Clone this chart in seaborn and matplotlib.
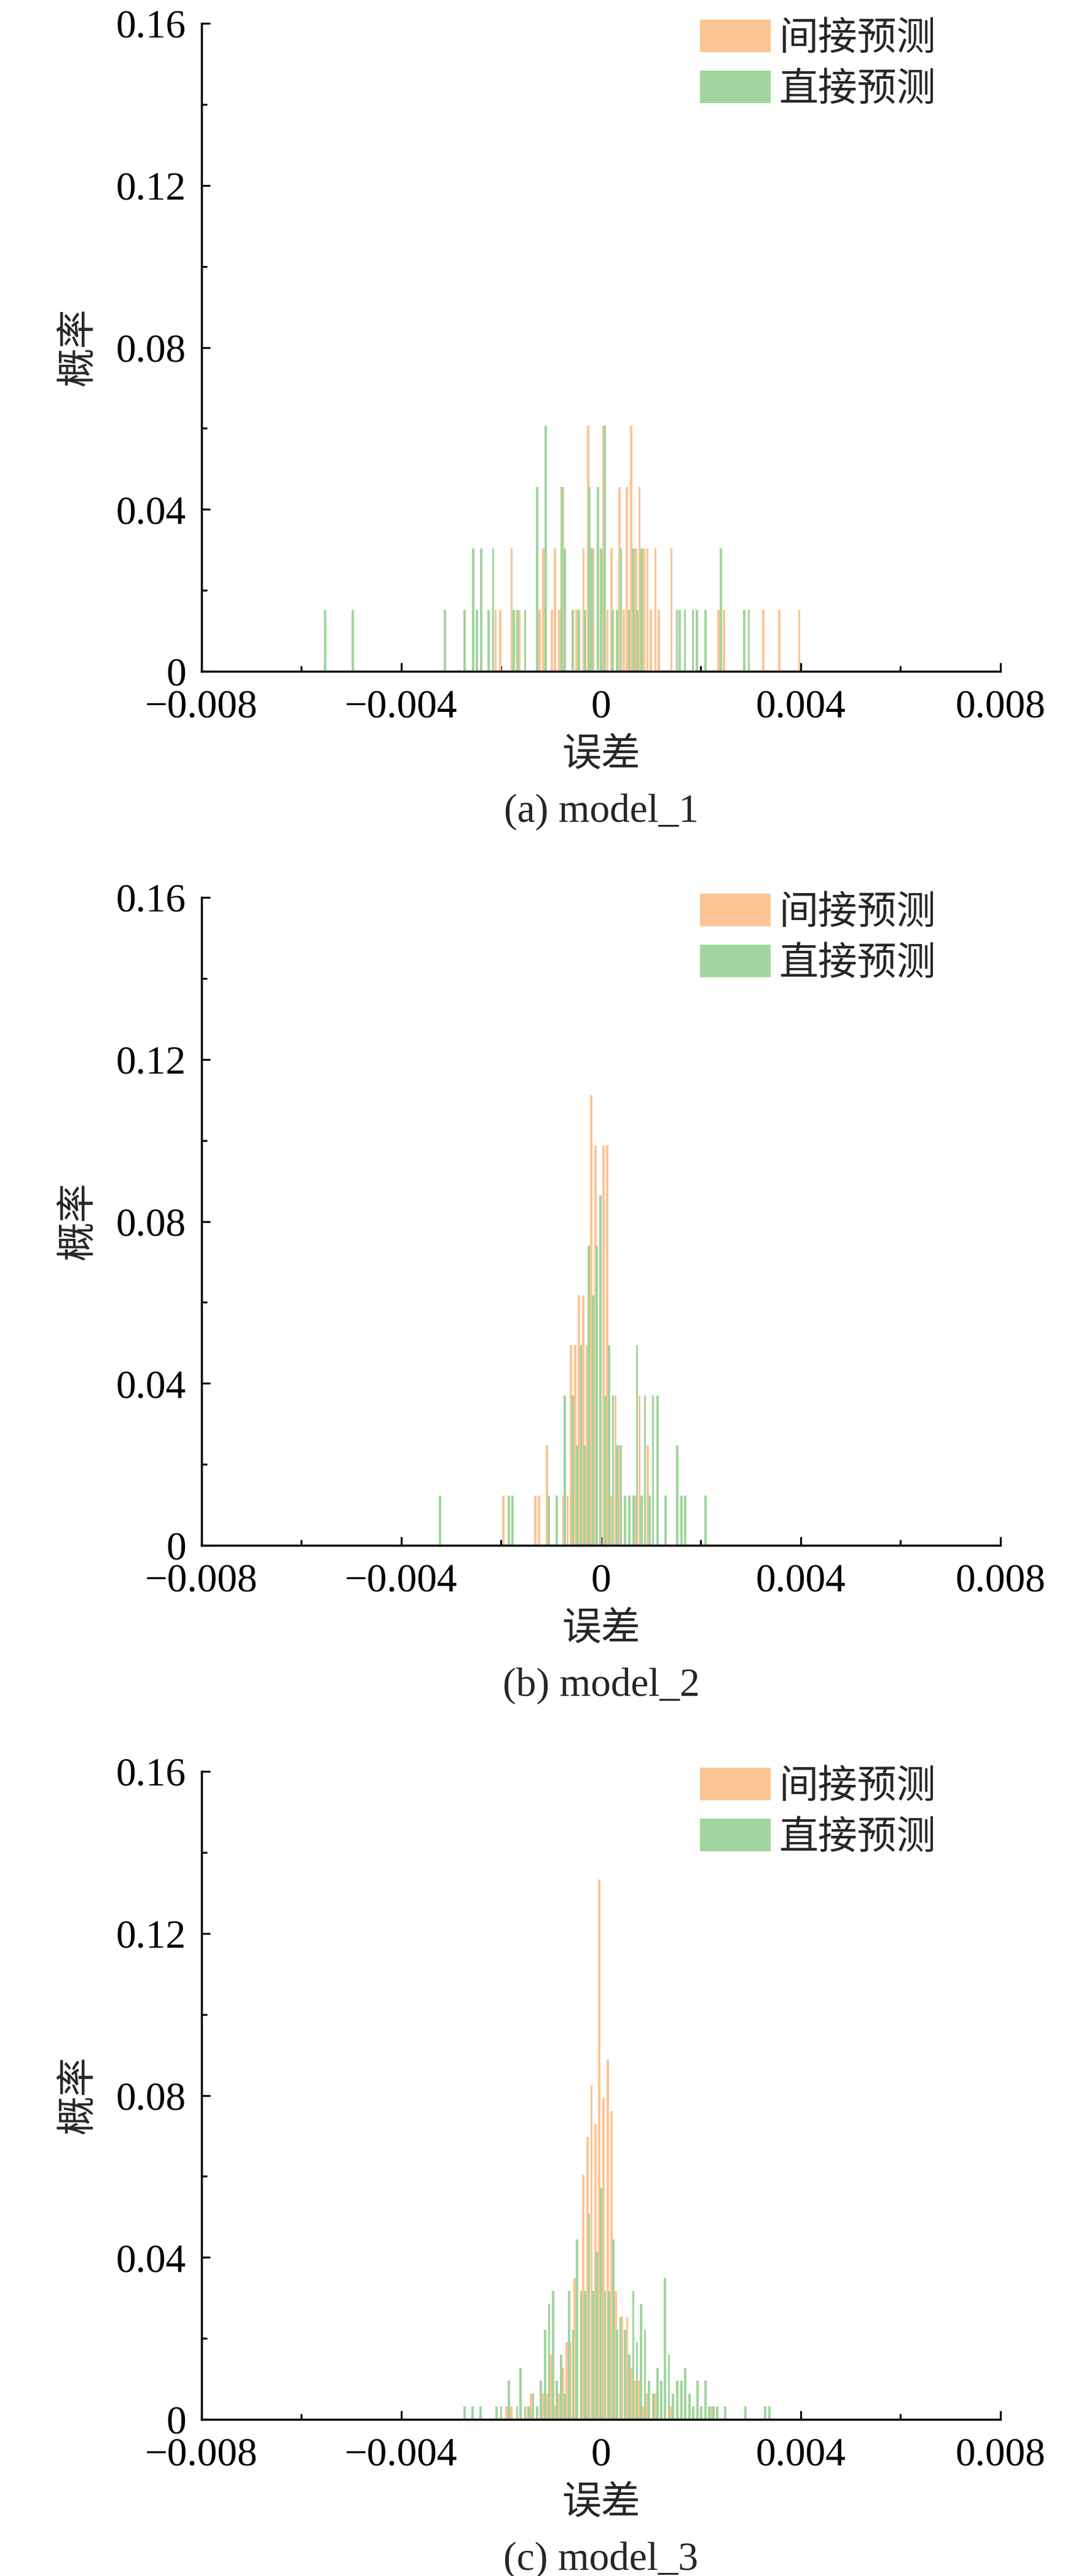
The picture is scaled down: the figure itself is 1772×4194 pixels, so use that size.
import numpy as np
import pandas as pd
import matplotlib
matplotlib.use("Agg")
import matplotlib.pyplot as plt
import seaborn as sns
from matplotlib.patches import Patch

# error values are written in units of 1e-3, counts are number of samples per bar
SCALE = 1e-3

# (a) model_1, 66 samples
p1_total = 66
p1_ind_x = [-2.11, -2.02, -1.79, -1.64, -1.23, -1.16, -0.98, -0.92, -0.84, -0.76,
            -0.49, -0.35, -0.26, -0.16, 0.05, 0.13, 0.21, 0.37, 0.46, 0.52,
            0.605, 0.70, 0.77, 0.86, 0.93, 1.00, 1.09, 1.16, 1.41, 2.35,
            2.46, 3.25, 3.57, 3.97]
p1_ind_n = [1, 1, 2, 1, 1, 2, 1, 2, 1, 3,
            1, 2, 4, 2, 4, 1, 2, 3, 1, 3,
            4, 2, 3, 2, 2, 1, 2, 1, 2, 1,
            1, 1, 1, 1]
p1_dir_x = [-5.53, -4.97, -3.13, -2.73, -2.56, -2.49, -2.40, -2.25, -2.16, -1.75,
            -1.67, -1.52, -1.28, -1.11, -0.79, -0.73, -0.57, -0.44, -0.32, -0.23,
            -0.18, -0.06, 0.0, 0.07, 0.23, 0.32, 0.40, 0.56, 0.65, 0.73,
            0.81, 1.52, 1.58, 1.68, 1.84, 1.92, 2.09, 2.40, 2.87, 2.96]
p1_dir_n = [1, 1, 1, 1, 2, 1, 2, 1, 2, 1,
            1, 1, 3, 4, 3, 2, 1, 1, 1, 3,
            2, 3, 2, 4, 1, 1, 2, 1, 2, 1,
            2, 1, 1, 1, 1, 1, 1, 2, 1, 1]

# (b) model_2, 81 samples
p2_total = 81
p2_ind_x = [-1.96, -1.32, -1.24, -1.08, -0.755, -0.67, -0.60, -0.52, -0.44, -0.355,
            -0.28, -0.198, -0.107, 0.05, 0.124, 0.20, 0.29, 0.36, 0.69, 0.77,
            0.936]
p2_ind_n = [1, 1, 1, 2, 1, 1, 4, 4, 5, 5,
            4, 9, 8, 8, 8, 1, 3, 2, 1, 3,
            2]
p2_dir_x = [-3.22, -1.85, -1.77, -1.05, -0.89, -0.73, -0.57, -0.48, -0.40, -0.33,
            -0.25, -0.165, -0.082, -0.008, 0.082, 0.16, 0.24, 0.318, 0.40, 0.483,
            0.565, 0.648, 0.72, 0.81, 0.88, 0.97, 1.04, 1.13, 1.29, 1.53,
            1.61, 1.69, 2.09]
p2_dir_n = [1, 1, 1, 1, 1, 3, 3, 2, 4, 2,
            6, 5, 6, 7, 3, 4, 3, 2, 2, 1,
            1, 1, 4, 1, 3, 1, 3, 3, 1, 2,
            1, 1, 1]

# (c) model_3, 315 samples
p3_total = 315
p3_ind_x = [-1.89, -1.80, -1.47, -1.40, -1.17, -1.08, -1.01, -0.92, -0.85, -0.76,
            -0.69, -0.61, -0.53, -0.355, -0.27, -0.19, -0.107, -0.033, 0.05, 0.132,
            0.214, 0.297, 0.42, 0.524, 0.607, 0.69, 0.75, 0.834, 0.923, 1.08,
            1.40, 2.21]
p3_ind_n = [1, 1, 1, 2, 2, 2, 5, 1, 2, 4,
            6, 6, 11, 19, 22, 26, 23, 42, 25, 28,
            24, 10, 8, 8, 4, 3, 3, 1, 2, 2,
            1, 1]
p3_dir_x = [-2.735, -2.57, -2.41, -2.09, -2.00, -1.85, -1.68, -1.61, -1.52, -1.44,
            -1.36, -1.28, -1.21, -1.12, -1.04, -0.96, -0.89, -0.80, -0.73, -0.64,
            -0.56, -0.48, -0.40, -0.32, -0.24, -0.157, -0.083, 0.0, 0.08, 0.165,
            0.243, 0.32, 0.388, 0.483, 0.564, 0.647, 0.72, 0.80, 0.88, 0.965,
            1.048, 1.13, 1.204, 1.28, 1.36, 1.444, 1.53, 1.61, 1.69, 1.77,
            1.85, 1.93, 2.01, 2.09, 2.17, 2.25, 2.33, 2.49, 2.89, 3.29,
            3.375]
p3_dir_n = [1, 1, 1, 1, 1, 3, 1, 4, 1, 1,
            2, 1, 3, 7, 9, 10, 3, 5, 2, 10,
            7, 14, 10, 10, 16, 10, 13, 18, 10, 10,
            14, 7, 8, 7, 5, 10, 6, 9, 7, 3,
            2, 4, 3, 11, 5, 2, 3, 3, 4, 2,
            1, 3, 1, 3, 1, 1, 1, 1, 1, 1,
            1]

series_labels = ["间接预测", "直接预测"]
captions = ["(a) model_1", "(b) model_2", "(c) model_3"]
x_ticks = [-0.008, -0.004, 0, 0.004, 0.008]
x_tick_labels = ["\u22120.008", "\u22120.004", "0", "0.004", "0.008"]
x_minor = [-0.006, -0.002, 0.002, 0.006]
y_ticks = [0, 0.04, 0.08, 0.12, 0.16]
y_tick_labels = ["0", "0.04", "0.08", "0.12", "0.16"]
y_minor = [0.02, 0.06, 0.10, 0.14]

c_ind = "#FCC595"
c_dir = "#A1D59D"
bar_w = 0.048e-3

sns.set_theme(style="ticks")
plt.rcParams['font.family'] = ['Liberation Serif', 'Noto Sans CJK SC', 'DejaVu Sans']
plt.rcParams['axes.unicode_minus'] = True


# one set of bars, bins built round each bar centre
def draw_bars(ax, xs, ns, total, color):
    df = pd.DataFrame({"err": np.array(xs) * SCALE,
                       "prob": np.array(ns) / total})
    edges = np.sort(np.concatenate([df["err"] - bar_w / 2, df["err"] + bar_w / 2]))
    sns.histplot(data=df, x="err", weights="prob", bins=edges.tolist(), stat="count",
                 color=color, alpha=1, linewidth=0, ax=ax)


fig = plt.figure(figsize=(17.72, 41.94), dpi=100)
panels = [
    (p1_ind_x, p1_ind_n, p1_dir_x, p1_dir_n, p1_total, 0.7394),
    (p2_ind_x, p2_ind_n, p2_dir_x, p2_dir_n, p2_total, 0.4001),
    (p3_ind_x, p3_ind_n, p3_dir_x, p3_dir_n, p3_total, 0.0608),
]

for i, (ix, inn, dx, dn, tot, bottom) in enumerate(panels):
    ax = fig.add_axes([0.1851, bottom, 0.7336, 0.2515])
    draw_bars(ax, ix, inn, tot, c_ind)
    draw_bars(ax, dx, dn, tot, c_dir)

    ax.set_xlim(-0.008, 0.008)
    ax.set_ylim(0, 0.16)
    ax.set_xticks(x_ticks)
    ax.set_xticklabels(x_tick_labels)
    ax.set_xticks(x_minor, minor=True)
    ax.set_yticks(y_ticks)
    ax.set_yticklabels(y_tick_labels)
    ax.set_yticks(y_minor, minor=True)
    ax.tick_params(which='both', direction='in', width=2.2, colors='black',
                   top=False, right=False, labelsize=47)
    ax.tick_params(which='major', length=10)
    ax.tick_params(which='minor', length=6.5)
    ax.tick_params(axis='x', which='major', pad=21)
    ax.tick_params(axis='y', which='major', pad=18)
    sns.despine(ax=ax)
    for s in ['left', 'bottom']:
        ax.spines[s].set_linewidth(2.5)
        ax.spines[s].set_color('black')

    ax.set_xlabel("误差", fontsize=46)
    ax.xaxis.set_label_coords(0.5, -0.132)
    ax.xaxis.label.set_va('center')
    ax.set_ylabel("概率", fontsize=46)
    ax.yaxis.set_label_coords(-0.153, 0.5)
    ax.yaxis.label.set_va('center')
    ax.yaxis.label.set_ha('center')

    ax.text(0.5, -0.232, captions[i], transform=ax.transAxes, ha='center',
            va='baseline', fontsize=47)

    handles = [Patch(facecolor=c_ind, edgecolor='none'),
               Patch(facecolor=c_dir, edgecolor='none')]
    ax.legend(handles, series_labels, loc='upper left', bbox_to_anchor=(0.624, 1.006),
              frameon=False, fontsize=46, handlelength=1.8, handleheight=0.9,
              handletextpad=0.2, labelspacing=0.32, borderpad=0, borderaxespad=0)

fig.savefig("out.png", dpi=100)
